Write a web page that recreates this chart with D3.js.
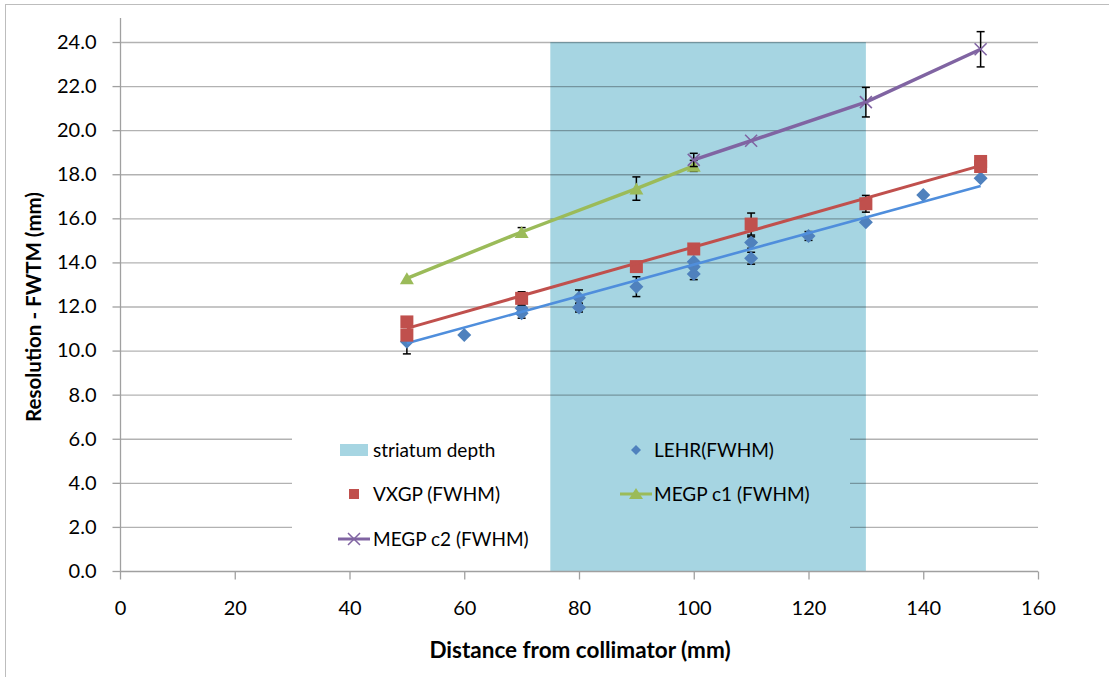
<!DOCTYPE html>
<html>
<head>
<meta charset="utf-8">
<script src="https://cdn.jsdelivr.net/npm/d3@7"></script>
<style>
  body { margin: 0; background: #fff; }
  text { font-family: Lato, "Open Sans", sans-serif; fill: #000; }
</style>
</head>
<body>
<svg id="chart" width="1109" height="677"></svg>
<script>
// striatum depth band (x range) and its top
const bandX = [75, 130];
const bandTop = 24;

// LEHR (FWHM)
const lehrX = [50, 60, 70, 70, 80, 80, 90, 100, 100, 100, 110, 110, 120, 130, 140, 150];
const lehrY = [10.40, 10.71, 11.92, 11.69, 12.40, 11.95, 12.90, 14.03, 13.80, 13.47, 14.90, 14.19, 15.20, 15.82, 17.06, 17.82];
const lehrErr = [0.55, 0, 0, 0.22, 0.35, 0.2, 0.45, 0, 0, 0.25, 0.26, 0.27, 0.2, 0, 0, 0];
// linear trend line (x, y at both ends)
const lehrTrendX = [50, 150];
const lehrTrendY = [10.33, 17.47];

// VXGP (FWHM)
const vxgpX = [50, 50, 70, 90, 100, 110, 130, 150, 150];
const vxgpY = [11.30, 10.70, 12.37, 13.81, 14.61, 15.74, 16.66, 18.58, 18.35];
const vxgpErr = [0.1, 0, 0.3, 0, 0, 0.5, 0.38, 0, 0];
const vxgpTrendX = [50, 150];
const vxgpTrendY = [11.01, 18.39];

// MEGP c1 (FWHM)
const c1X = [50, 70, 90, 100];
const c1Y = [13.28, 15.38, 17.35, 18.38];
const c1Err = [0, 0.2, 0.53, 0.25];

// MEGP c2 (FWHM)
const c2X = [100, 110, 130, 150];
const c2Y = [18.65, 19.52, 21.27, 23.67];
const c2Err = [0.3, 0, 0.67, 0.8];

const xTicks = [0, 20, 40, 60, 80, 100, 120, 140, 160];
const yTicks = [0, 2, 4, 6, 8, 10, 12, 14, 16, 18, 20, 22, 24];

const svg = d3.select('#chart');
const plot = { left: 120, right: 1038, top: 42, bottom: 571 };

const x = d3.scaleLinear().domain([0, 160]).range([plot.left, plot.right]);
const y = d3.scaleLinear().domain([0, 24]).range([plot.bottom, plot.top]);

const bandColor = '#a6d5e2';
const blue = '#4f81bd', red = '#c0504d', green = '#9bbb59', purple = '#8064a2';

// chart frame
svg.append('rect').attr('x', 5.5).attr('y', 4.5).attr('width', 1120).attr('height', 690)
    .attr('fill', 'none').attr('stroke', '#bdbdbd');

// band
const band = () => svg.append('rect')
    .attr('x', x(bandX[0])).attr('width', x(bandX[1]) - x(bandX[0]))
    .attr('y', y(bandTop)).attr('height', y(0) - y(bandTop))
    .attr('fill', bandColor);
band();

// gridlines
svg.append('g').selectAll('line').data(yTicks.slice(1)).join('line')
    .attr('x1', plot.left).attr('x2', plot.right)
    .attr('y1', d => y(d) + 0.5).attr('y2', d => y(d) + 0.5)
    .attr('stroke', 'rgba(0,0,0,0.3)').attr('stroke-width', 1.3);

// legend background (covers the gridlines, band stays visible)
const legBox = { x: 292, y: 426, w: 558, h: 134 };
svg.append('rect').attr('x', legBox.x).attr('y', legBox.y).attr('width', legBox.w).attr('height', legBox.h)
    .attr('fill', '#fff');
svg.append('clipPath').attr('id', 'legClip').append('rect')
    .attr('x', legBox.x).attr('y', legBox.y).attr('width', legBox.w).attr('height', legBox.h);
band().attr('clip-path', 'url(#legClip)');

// axes
const yAxis = svg.append('g').attr('transform', `translate(${plot.left + 0.5},0)`)
    .call(d3.axisLeft(y).tickValues(yTicks).tickFormat(d3.format('.1f')).tickSize(8).tickPadding(16));
yAxis.select('.domain').attr('d', `M0,18V${plot.bottom + 0.5}`);
const xAxis = svg.append('g').attr('transform', `translate(0,${plot.bottom + 0.5})`)
    .call(d3.axisBottom(x).tickValues(xTicks).tickSize(8).tickPadding(21));
xAxis.select('.domain').attr('d', `M${plot.left},0H${plot.right}`);
[yAxis, xAxis].forEach(a => {
    a.selectAll('.domain').attr('stroke', '#a0a0a0').attr('stroke-width', 1.3);
    a.selectAll('.tick line').attr('stroke', '#a0a0a0').attr('stroke-width', 1.3);
    a.selectAll('.tick text').attr('font-size', 20).attr('fill', '#000')
        .attr('font-family', 'Lato, sans-serif');
});

// axis titles
svg.append('text').attr('x', 580).attr('y', 658).attr('text-anchor', 'middle')
    .attr('font-size', 22.5).attr('font-weight', 'bold').text('Distance from collimator (mm)');
svg.append('text').attr('transform', 'translate(41,307) rotate(-90)').attr('text-anchor', 'middle')
    .attr('font-size', 20.5).attr('font-weight', 'bold').text('Resolution - FWTM (mm)');

// helpers
const zip = (xs, ys, es) => xs.map((v, i) => ({ x: v, y: ys[i], e: es ? es[i] : 0 }));
const lehr = zip(lehrX, lehrY, lehrErr);
const vxgp = zip(vxgpX, vxgpY, vxgpErr);
const c1 = zip(c1X, c1Y, c1Err);
const c2 = zip(c2X, c2Y, c2Err);

const line = d3.line().x(d => x(d.x)).y(d => y(d.y));

function drawErr(pts) {
    const g = svg.append('g').attr('stroke', '#000').attr('stroke-width', 1.5);
    pts.filter(p => p.e > 0).forEach(p => {
        const cx = x(p.x);
        g.append('line').attr('x1', cx).attr('x2', cx).attr('y1', y(p.y - p.e)).attr('y2', y(p.y + p.e));
        [p.y - p.e, p.y + p.e].forEach(v => {
            g.append('line').attr('x1', cx - 4).attr('x2', cx + 4).attr('y1', y(v)).attr('y2', y(v));
        });
    });
}

const diamond = 'M0,-7L7,0L0,7L-7,0Z';
const square = 'M-6.5,-6.5H6.5V6.5H-6.5Z';
const triangle = 'M0,-6L7,6H-7Z';
const cross = 'M-6,-6L6,6M-6,6L6,-6';

function drawMarks(pts, path, color, stroked) {
    svg.append('g').selectAll('path').data(pts).join('path')
        .attr('transform', p => `translate(${x(p.x)},${y(p.y)})`)
        .attr('d', path)
        .attr('fill', stroked ? 'none' : color)
        .attr('stroke', stroked ? color : 'none')
        .attr('stroke-width', 1.6);
}

// LEHR
drawErr(lehr);
drawMarks(lehr, diamond, blue);
svg.append('path').attr('d', line(zip(lehrTrendX, lehrTrendY)))
    .attr('fill', 'none').attr('stroke', '#4f8edc').attr('stroke-width', 2.6);

// VXGP
drawErr(vxgp);
drawMarks(vxgp, square, red);
svg.append('path').attr('d', line(zip(vxgpTrendX, vxgpTrendY)))
    .attr('fill', 'none').attr('stroke', red).attr('stroke-width', 3);

// MEGP c1
svg.append('path').attr('d', line(c1)).attr('fill', 'none').attr('stroke', green).attr('stroke-width', 3.5);
drawErr(c1);
drawMarks(c1, triangle, green);

// MEGP c2
svg.append('path').attr('d', line(c2)).attr('fill', 'none').attr('stroke', purple).attr('stroke-width', 3.5);
drawErr(c2);
drawMarks(c2, cross, purple, true);

// legend entries
const leg = svg.append('g');
const legItems = [
    { label: 'striatum depth', kind: 'band', cx: 354, ty: 450 },
    { label: 'LEHR(FWHM)', kind: 'diamond', cx: 636, ty: 450 },
    { label: 'VXGP (FWHM)', kind: 'square', cx: 354, ty: 494 },
    { label: 'MEGP c1 (FWHM)', kind: 'c1', cx: 636, ty: 494 },
    { label: 'MEGP c2 (FWHM)', kind: 'c2', cx: 354, ty: 539 }
];
legItems.forEach(it => {
    const g = leg.append('g').attr('transform', `translate(${it.cx},${it.ty})`);
    if (it.kind === 'band') {
        g.append('rect').attr('x', -14).attr('y', -6).attr('width', 28).attr('height', 12).attr('fill', bandColor);
    } else if (it.kind === 'diamond') {
        g.append('path').attr('d', 'M0,-5L5,0L0,5L-5,0Z').attr('fill', blue);
    } else if (it.kind === 'square') {
        g.append('path').attr('d', 'M-5,-5H5V5H-5Z').attr('fill', red);
    } else if (it.kind === 'c1') {
        g.append('line').attr('x1', -16).attr('x2', 16).attr('stroke', green).attr('stroke-width', 3);
        g.append('path').attr('d', 'M0,-6L7,5H-7Z').attr('fill', green);
    } else {
        g.append('line').attr('x1', -16).attr('x2', 16).attr('stroke', purple).attr('stroke-width', 3);
        g.append('path').attr('d', 'M-6,-6L6,6M-6,6L6,-6').attr('stroke', purple).attr('stroke-width', 1.5);
    }
    g.append('text').attr('x', it.kind === 'diamond' || it.kind === 'c1' ? 18 : 19).attr('y', 0)
        .attr('dy', '0.35em').attr('font-size', 19).text(it.label);
});
</script>
</body>
</html>
